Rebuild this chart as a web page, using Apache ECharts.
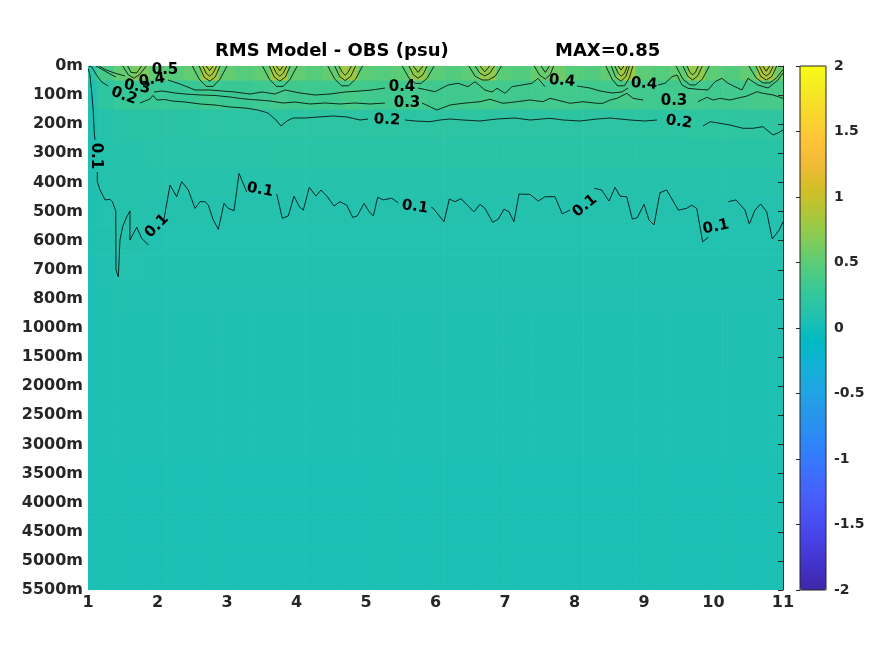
<!DOCTYPE html>
<html><head><meta charset="utf-8">
<script src="https://cdn.jsdelivr.net/npm/echarts@6/dist/echarts.min.js"></script>
<style>html,body{margin:0;padding:0;background:#fff}#c{width:875px;height:656px}</style>
</head><body><div id="c"></div>
<script>
// ---- data ----
const xNodes = [1,1.25,1.5,1.75,2,2.25,2.5,2.75,3,3.25,3.5,3.75,4,4.25,4.5,4.75,5,5.25,5.5,5.75,6,6.25,6.5,6.75,7,7.25,7.5,7.75,8,8.25,8.5,8.75,9,9.25,9.5,9.75,10,10.25,10.5,10.75,11];
const depthLabels = ['0m','100m','200m','300m','400m','500m','600m','700m','800m','1000m','1500m','2000m','2500m','3000m','3500m','4000m','4500m','5000m','5500m'];
const xTicks = [1,2,3,4,5,6,7,8,9,10,11];

const rms_0m    = [0.15,0.38,0.52,0.64,0.50,0.47,0.52,0.83,0.52,0.47,0.52,0.82,0.52,0.47,0.53,0.78,0.50,0.46,0.50,0.72,0.50,0.45,0.50,0.74,0.48,0.45,0.54,0.58,0.47,0.45,0.52,0.80,0.50,0.46,0.52,0.74,0.50,0.45,0.52,0.85,0.56];
const rms_100m  = [0.08,0.20,0.28,0.30,0.29,0.28,0.30,0.34,0.31,0.30,0.32,0.36,0.34,0.33,0.34,0.37,0.35,0.34,0.34,0.36,0.34,0.34,0.35,0.37,0.35,0.34,0.35,0.36,0.35,0.34,0.35,0.38,0.35,0.34,0.35,0.36,0.34,0.35,0.36,0.38,0.37];
const rms_200m  = [0.07,0.12,0.15,0.16,0.16,0.16,0.16,0.17,0.17,0.17,0.18,0.19,0.19,0.19,0.19,0.19,0.19,0.19,0.19,0.19,0.19,0.19,0.19,0.19,0.19,0.19,0.19,0.19,0.19,0.19,0.19,0.19,0.19,0.19,0.19,0.20,0.20,0.20,0.21,0.21,0.21];
const rms_300m  = [0.07,0.11,0.13,0.13,0.14,0.14,0.14,0.14,0.14,0.14,0.14,0.15,0.15,0.15,0.15,0.15,0.15,0.15,0.15,0.15,0.15,0.15,0.15,0.15,0.15,0.15,0.15,0.15,0.15,0.15,0.15,0.15,0.15,0.15,0.15,0.15,0.15,0.15,0.15,0.15,0.15];
const rms_400m  = [0.07,0.10,0.11,0.11,0.12,0.12,0.12,0.12,0.12,0.12,0.12,0.12,0.12,0.12,0.12,0.12,0.12,0.12,0.12,0.12,0.12,0.12,0.12,0.12,0.12,0.12,0.12,0.12,0.12,0.12,0.12,0.12,0.12,0.12,0.12,0.12,0.12,0.12,0.12,0.12,0.12];
const rms_500m  = [0.06,0.09,0.105,0.10,0.099,0.099,0.099,0.099,0.099,0.099,0.099,0.099,0.099,0.099,0.099,0.099,0.099,0.099,0.099,0.099,0.099,0.099,0.099,0.099,0.099,0.099,0.099,0.099,0.099,0.099,0.099,0.099,0.099,0.099,0.099,0.099,0.099,0.099,0.099,0.099,0.099];
const rms_600m  = [0.055,0.085,0.10,0.095,0.09,0.09,0.09,0.09,0.09,0.09,0.09,0.09,0.09,0.09,0.09,0.09,0.09,0.09,0.09,0.09,0.09,0.09,0.09,0.09,0.09,0.09,0.09,0.09,0.09,0.09,0.09,0.09,0.09,0.09,0.09,0.09,0.09,0.09,0.09,0.09,0.09];
const rms_700m  = [0.05,0.08,0.095,0.09,0.085,0.085,0.085,0.085,0.085,0.085,0.085,0.085,0.085,0.085,0.085,0.085,0.085,0.085,0.085,0.085,0.085,0.085,0.085,0.085,0.085,0.085,0.085,0.085,0.085,0.085,0.085,0.085,0.085,0.085,0.085,0.085,0.085,0.085,0.085,0.085,0.085];
const rms_800m  = [0.05,0.075,0.085,0.08,0.08,0.08,0.08,0.08,0.08,0.08,0.08,0.08,0.08,0.08,0.08,0.08,0.08,0.08,0.08,0.08,0.08,0.08,0.08,0.08,0.08,0.08,0.08,0.08,0.08,0.08,0.08,0.08,0.08,0.08,0.08,0.08,0.08,0.08,0.08,0.08,0.08];
const rms_1000m = [0.045,0.065,0.07,0.07,0.07,0.07,0.07,0.07,0.07,0.07,0.07,0.07,0.07,0.07,0.07,0.07,0.07,0.07,0.07,0.07,0.07,0.07,0.07,0.07,0.07,0.07,0.07,0.07,0.07,0.07,0.07,0.07,0.07,0.07,0.07,0.07,0.07,0.07,0.07,0.07,0.07];
const rms_1500m = [0.045,0.06,0.065,0.065,0.065,0.065,0.065,0.065,0.065,0.065,0.065,0.065,0.065,0.065,0.065,0.065,0.065,0.065,0.065,0.065,0.065,0.065,0.065,0.065,0.065,0.065,0.065,0.065,0.065,0.065,0.065,0.065,0.065,0.065,0.065,0.065,0.065,0.065,0.065,0.065,0.065];
const rms_2000m = [0.05,0.06,0.06,0.06,0.06,0.06,0.06,0.06,0.06,0.06,0.06,0.06,0.06,0.06,0.06,0.06,0.06,0.06,0.06,0.06,0.06,0.06,0.06,0.06,0.06,0.06,0.06,0.06,0.06,0.06,0.06,0.06,0.06,0.06,0.06,0.06,0.06,0.06,0.06,0.06,0.06];
const rms_2500m = [0.05,0.057,0.057,0.057,0.057,0.057,0.057,0.057,0.057,0.057,0.057,0.057,0.057,0.057,0.057,0.057,0.057,0.057,0.057,0.057,0.057,0.057,0.057,0.057,0.057,0.057,0.057,0.057,0.057,0.057,0.057,0.057,0.057,0.057,0.057,0.057,0.057,0.057,0.057,0.057,0.057];
const rms_3000m = [0.05,0.055,0.055,0.055,0.055,0.055,0.055,0.055,0.055,0.055,0.055,0.055,0.055,0.055,0.055,0.055,0.055,0.055,0.055,0.055,0.055,0.055,0.055,0.055,0.055,0.055,0.055,0.055,0.055,0.055,0.055,0.055,0.055,0.055,0.055,0.055,0.055,0.055,0.055,0.055,0.055];
const rms_3500m = [0.052,0.052,0.052,0.052,0.052,0.052,0.052,0.052,0.052,0.052,0.052,0.052,0.052,0.052,0.052,0.052,0.052,0.052,0.052,0.052,0.052,0.052,0.052,0.052,0.052,0.052,0.052,0.052,0.052,0.052,0.052,0.052,0.052,0.052,0.052,0.052,0.052,0.052,0.052,0.052,0.052];
const rms_4000m = [0.05,0.05,0.05,0.05,0.05,0.05,0.05,0.05,0.05,0.05,0.05,0.05,0.05,0.05,0.05,0.05,0.05,0.05,0.05,0.05,0.05,0.05,0.05,0.05,0.05,0.05,0.05,0.05,0.05,0.05,0.05,0.05,0.05,0.05,0.05,0.05,0.05,0.05,0.05,0.05,0.05];
const rms_4500m = [0.05,0.05,0.05,0.05,0.05,0.05,0.05,0.05,0.05,0.05,0.05,0.05,0.05,0.05,0.05,0.05,0.05,0.05,0.05,0.05,0.05,0.05,0.05,0.05,0.05,0.05,0.05,0.05,0.05,0.05,0.05,0.05,0.05,0.05,0.05,0.05,0.05,0.05,0.05,0.05,0.05];
const rms_5000m = [0.048,0.048,0.048,0.048,0.048,0.048,0.048,0.048,0.048,0.048,0.048,0.048,0.048,0.048,0.048,0.048,0.048,0.048,0.048,0.048,0.048,0.048,0.048,0.048,0.048,0.048,0.048,0.048,0.048,0.048,0.048,0.048,0.048,0.048,0.048,0.048,0.048,0.048,0.048,0.048,0.048];
const rms_5500m = [0.048,0.048,0.048,0.048,0.048,0.048,0.048,0.048,0.048,0.048,0.048,0.048,0.048,0.048,0.048,0.048,0.048,0.048,0.048,0.048,0.048,0.048,0.048,0.048,0.048,0.048,0.048,0.048,0.048,0.048,0.048,0.048,0.048,0.048,0.048,0.048,0.048,0.048,0.048,0.048,0.048];

// contour lines: [x, depth level index] per segment
const contour01 = [
  [[1.004,0.09],[1.029,0.32],[1.053,0.89],[1.076,1.58],[1.091,2.33],[1.101,2.54]],
  [[1.134,3.64],[1.134,3.97],[1.173,4.26],[1.245,4.60],[1.317,4.58],[1.350,4.66],[1.399,4.97],[1.403,7.01],[1.436,7.24],[1.460,5.98],[1.499,5.52],[1.557,5.18],[1.604,4.98],[1.604,5.98],[1.701,5.54],[1.773,5.92],[1.868,6.15]],
  [[2.083,5.40],[2.180,4.09],[2.276,4.49],[2.348,3.97],[2.443,4.26],[2.540,4.89],[2.612,4.66],[2.683,4.66],[2.731,4.78],[2.803,5.29],[2.875,5.61],[2.957,4.72],[3.019,4.89],[3.101,4.97],[3.173,3.69],[3.283,4.32]],
  [[3.715,4.40],[3.796,5.23],[3.882,5.15],[3.964,4.47],[4.040,4.83],[4.098,4.95],[4.184,4.17],[4.281,4.47],[4.353,4.26],[4.443,4.49],[4.540,4.81],[4.626,4.66],[4.722,4.78],[4.809,5.20],[4.875,5.15],[4.971,4.72],[5.047,5.01],[5.105,5.15],[5.168,4.51],[5.249,4.60],[5.370,4.54],[5.465,4.70]],
  [[5.940,4.85],[5.968,4.89],[6.122,5.35],[6.199,4.57],[6.281,4.66],[6.367,4.56],[6.554,5.01],[6.640,4.75],[6.712,4.89],[6.823,5.37],[6.904,5.26],[6.986,4.92],[7.058,5.01],[7.129,5.35],[7.201,4.40],[7.360,4.41],[7.479,4.64],[7.576,4.49],[7.719,4.49],[7.824,5.08],[7.935,4.95]],
  [[8.285,4.20],[8.391,4.26],[8.496,4.64],[8.583,4.17],[8.655,4.47],[8.751,4.49],[8.832,5.26],[8.904,5.21],[9.000,4.75],[9.072,5.29],[9.144,5.46],[9.230,4.35],[9.327,4.26],[9.494,4.95],[9.614,4.89],[9.686,4.78],[9.758,4.89],[9.844,6.04],[9.925,5.88]],
  [[10.213,4.66],[10.324,4.60],[10.453,4.95],[10.515,5.43],[10.597,4.95],[10.679,4.74],[10.765,5.01],[10.846,5.94],[10.947,5.63],[11.0,5.35]]
];
const contour02 = [
  [[1.014,0],[1.053,0.03],[1.125,0.32],[1.197,0.55],[1.292,0.69]],
  [[1.748,1.271],[1.892,1.134],[1.935,1.013],[1.993,1.168],[2.108,1.151],[2.209,1.202],[2.396,1.237],[2.612,1.305],[2.827,1.340],[3.043,1.408],[3.259,1.443],[3.446,1.512],[3.590,1.615],[3.705,1.855],[3.777,2.061],[3.863,1.889],[3.950,1.786],[4.122,1.786],[4.309,1.752],[4.525,1.718],[4.727,1.752],[4.914,1.855],[5.029,1.821]],
  [[5.561,1.855],[5.705,1.889],[5.921,1.913],[6.065,1.855],[6.209,1.821],[6.396,1.855],[6.640,1.889],[6.885,1.821],[7.144,1.786],[7.360,1.855],[7.647,1.797],[7.835,1.855],[8.079,1.889],[8.324,1.821],[8.511,1.786],[8.799,1.855],[9.014,1.889],[9.187,1.855]],
  [[9.849,2.061],[9.950,1.913],[10.094,1.968],[10.237,2.027],[10.424,2.140],[10.568,2.140],[10.712,2.085],[10.856,2.370],[10.928,2.302],[11.0,2.199]]
];
const contour03 = [
  [[1.115,0],[1.216,0.137],[1.317,0.275],[1.403,0.378]],
  [[1.950,0.893],[2.065,0.859],[2.252,0.928],[2.396,0.962],[2.612,0.996],[2.827,1.013],[3.043,1.065],[3.259,1.134],[3.446,1.168],[3.619,1.202],[3.806,1.271],[3.978,1.237],[4.194,1.305],[4.410,1.271],[4.626,1.305],[4.842,1.271],[5.058,1.305],[5.273,1.271]],
  [[5.806,1.271],[5.921,1.398],[6.022,1.512],[6.209,1.340],[6.396,1.281],[6.640,1.226],[6.784,1.144],[6.971,1.281],[7.173,1.226],[7.360,1.168],[7.547,1.226],[7.647,1.110],[7.748,1.168],[7.935,1.281],[8.122,1.226],[8.324,1.281],[8.410,1.281],[8.511,1.168],[8.612,1.110],[8.755,0.938],[8.842,1.110],[8.986,1.168]],
  [[9.777,1.226],[9.906,1.075],[9.993,1.168],[10.094,1.110],[10.237,1.168],[10.338,1.110],[10.482,1.031],[10.626,0.883],[10.712,0.938],[10.856,0.996],[11.0,1.110]]
];
const contour04 = [
  [[1.158,0],[1.259,0.137],[1.403,0.258],[1.532,0.344]],
  [[2.151,0.481],[2.324,0.618],[2.540,0.824],[2.755,0.824],[2.928,0.859],[3.115,0.893],[3.331,0.962],[3.504,0.893],[3.691,0.962],[3.835,0.824],[4.050,0.928],[4.266,0.996],[4.482,0.962],[4.698,0.893],[4.914,0.859],[5.086,0.824],[5.273,0.756]],
  [[5.748,0.756],[5.993,0.883],[6.180,0.653],[6.324,0.594],[6.468,0.711],[6.568,0.539],[6.712,0.824],[6.813,0.893],[6.885,0.766],[7.000,0.938],[7.101,0.711],[7.245,0.653],[7.388,0.594],[7.475,0.423],[7.576,0.711]],
  [[8.036,0.687],[8.223,0.756],[8.367,0.859],[8.540,0.928],[8.683,0.893],[8.770,0.756]],
  [[9.201,0.653],[9.302,0.594],[9.403,0.368],[9.475,0.309],[9.547,0.653],[9.633,0.766],[9.777,0.800],[9.921,0.824],[10.022,0.539],[10.122,0.423],[10.209,0.594],[10.309,0.711],[10.410,0.824],[10.496,0.423],[10.640,0.653],[10.784,0.756],[10.928,0.481],[11.0,0.240]]
];
const contour05 = [
  [[1.50,0],[1.58,0.30],[1.66,0.42],[1.74,0.30],[1.84,0]],
  [[2.50,0],[2.60,0.45],[2.70,0.70],[2.80,0.70],[2.90,0.45],[3.00,0]],
  [[3.51,0],[3.61,0.45],[3.71,0.70],[3.81,0.70],[3.91,0.45],[4.01,0]],
  [[4.45,0],[4.55,0.45],[4.65,0.68],[4.75,0.68],[4.85,0.45],[4.95,0]],
  [[5.52,0],[5.62,0.42],[5.71,0.60],[5.79,0.60],[5.88,0.42],[5.98,0]],
  [[6.48,0],[6.57,0.35],[6.67,0.48],[6.76,0.48],[6.86,0.35],[6.95,0]],
  [[7.42,0],[7.50,0.32],[7.58,0.45],[7.65,0.30],[7.70,0]],
  [[8.45,0],[8.54,0.45],[8.62,0.68],[8.72,0.68],[8.79,0.40],[8.84,0]],
  [[9.46,0],[9.56,0.45],[9.66,0.65],[9.74,0.65],[9.84,0.45],[9.94,0]],
  [[10.51,0],[10.61,0.40],[10.71,0.58],[10.81,0.58],[10.91,0.40],[11.0,0.12]]
];
const contour06 = [
  [[1.57,0],[1.62,0.22],[1.70,0.24],[1.77,0]],
  [[2.60,0],[2.67,0.38],[2.75,0.52],[2.83,0.38],[2.90,0]],
  [[3.61,0],[3.68,0.38],[3.76,0.52],[3.84,0.38],[3.91,0]],
  [[4.55,0],[4.62,0.36],[4.70,0.50],[4.78,0.36],[4.85,0]],
  [[5.62,0],[5.68,0.30],[5.75,0.42],[5.82,0.30],[5.88,0]],
  [[6.57,0],[6.64,0.25],[6.71,0.34],[6.78,0.25],[6.85,0]],
  [[7.52,0],[7.58,0.22],[7.64,0]],
  [[8.53,0],[8.59,0.38],[8.67,0.52],[8.74,0.36],[8.79,0]],
  [[9.56,0],[9.63,0.35],[9.70,0.48],[9.77,0.35],[9.84,0]],
  [[10.61,0],[10.68,0.36],[10.76,0.48],[10.84,0.36],[10.91,0]]
];
const contour07 = [
  [[2.65,0],[2.70,0.25],[2.75,0.35],[2.80,0.25],[2.85,0]],
  [[3.66,0],[3.71,0.25],[3.76,0.35],[3.81,0.25],[3.86,0]],
  [[4.61,0],[4.66,0.22],[4.70,0.32],[4.74,0.22],[4.79,0]],
  [[5.68,0],[5.75,0.22],[5.82,0]],
  [[6.64,0],[6.71,0.20],[6.78,0]],
  [[8.58,0],[8.63,0.25],[8.67,0.35],[8.72,0.25],[8.76,0]],
  [[9.62,0],[9.66,0.22],[9.70,0.30],[9.74,0.22],[9.78,0]],
  [[10.66,0],[10.71,0.25],[10.76,0.34],[10.81,0.25],[10.86,0]]
];
const contour08 = [
  [[2.70,0],[2.75,0.16],[2.80,0]],
  [[3.71,0],[3.76,0.16],[3.81,0]],
  [[8.63,0],[8.67,0.14],[8.71,0]],
  [[10.71,0],[10.76,0.18],[10.81,0]]
];
// contour labels: [x, level, text, angle]
const contourLabels = [
  [1.115,3.09,'0.1',-90],[1.993,5.50,'0.1',45],[3.475,4.26,'0.1',-10],[5.705,4.84,'0.1',-8],
  [8.151,4.81,'0.1',40],[10.036,5.53,'0.1',12],
  [1.518,1.03,'0.2',-20],[5.302,1.855,'0.2',-3],[9.504,1.924,'0.2',-8],
  [1.705,0.72,'0.3',-10],[5.590,1.271,'0.3',0],[9.432,1.202,'0.3',0],
  [1.921,0.48,'0.4',8],[5.518,0.721,'0.4',0],[7.820,0.515,'0.4',-5],[9.0,0.618,'0.4',-5],
  [2.108,0.137,'0.5',0]
];

// ---- styles ----
const FONT = 'DejaVu Sans';
const TXT = '#262626';
const parula = ['#3E26A8','#4332CB','#4741E5','#4852F4','#4563FD','#3875FE','#2E87F7','#2796EB','#20A5E3','#12B1D6','#02BAC3','#24C1AE','#37C897','#57CC7A','#81CC59','#ABC739','#D1BF27','#F0BA36','#FEC338','#FAD62D','#F5E924','#F9FB15'];

const depthRows = [rms_0m,rms_100m,rms_200m,rms_300m,rms_400m,rms_500m,rms_600m,rms_700m,rms_800m,rms_1000m,rms_1500m,rms_2000m,rms_2500m,rms_3000m,rms_3500m,rms_4000m,rms_4500m,rms_5000m,rms_5500m];
const heatData = [];
depthRows.forEach((row, j) => row.forEach((v, i) => heatData.push([xNodes[i], j, v])));
const halfW = (xNodes[1] - xNodes[0]) / 2;
const segments = [].concat(contour01, contour02, contour03, contour04, contour05, contour06, contour07, contour08);

const chart = echarts.init(document.getElementById('c'));
chart.setOption({
  animation: false,
  backgroundColor: '#fff',
  title: [
    {text: 'RMS Model - OBS (psu)', left: 215, top: 42, padding: 0, textStyle: {fontFamily: FONT, fontSize: 18, fontWeight: 'bold', color: '#000'}},
    {text: 'MAX=0.85', left: 555, top: 42, padding: 0, textStyle: {fontFamily: FONT, fontSize: 18, fontWeight: 'bold', color: '#000'}}
  ],
  grid: [
    {left: 88, top: 66, width: 695, height: 524, outerBoundsMode: 'none', containLabel: false},
    {left: 800, top: 66, width: 26, height: 524, show: true, borderColor: TXT, borderWidth: 1, backgroundColor: 'rgba(0,0,0,0)', z: 10, outerBoundsMode: 'none', containLabel: false}
  ],
  xAxis: [
    {gridIndex: 0, type: 'value', min: xTicks[0], max: xTicks[xTicks.length-1], interval: 1,
     axisLine: {show: false}, axisTick: {show: false}, splitLine: {show: false},
     axisLabel: {fontFamily: FONT, fontSize: 16, fontWeight: 'bold', color: TXT, margin: 5, showMinLabel: true, showMaxLabel: true}},
    {gridIndex: 1, type: 'value', show: false, min: 0, max: 1}
  ],
  yAxis: [
    {gridIndex: 0, type: 'value', min: 0, max: depthLabels.length - 1, interval: 1, inverse: true,
     axisLine: {show: false}, axisTick: {show: false}, splitLine: {show: false},
     axisLabel: {fontFamily: FONT, fontSize: 16, fontWeight: 'bold', color: TXT, margin: 5, showMinLabel: true, showMaxLabel: true,
                 formatter: v => depthLabels[Math.round(v)] || ''}},
    {gridIndex: 0, type: 'value', min: 0, max: depthLabels.length - 1, interval: 1, inverse: true, position: 'right', z: 5,
     axisLine: {show: true, lineStyle: {color: TXT, width: 1}}, axisTick: {show: true, inside: true, length: 5, lineStyle: {color: TXT}},
     splitLine: {show: false}, axisLabel: {show: false}},
    {gridIndex: 1, type: 'value', min: -2, max: 2, interval: 0.5, position: 'right', z: 10,
     axisLine: {show: false}, axisTick: {show: true, inside: true, length: 4, lineStyle: {color: TXT}},
     splitLine: {show: false},
     axisLabel: {fontFamily: FONT, fontSize: 14, fontWeight: 'bold', color: TXT, margin: 8, showMinLabel: true, showMaxLabel: true}}
  ],
  visualMap: {
    type: 'continuous', min: -2, max: 2, dimension: 2, seriesIndex: 0,
    calculable: false, hoverLink: false, realtime: false,
    left: 800, top: 66, itemWidth: 26, itemHeight: 524, padding: 0, showLabel: false,
    inRange: {color: parula}
  },
  series: [
    {
      type: 'custom', xAxisIndex: 0, yAxisIndex: 0, silent: true, z: 1,
      data: heatData,
      renderItem: function (params, api) {
        const cs = params.coordSys;
        const x = api.value(0), y = api.value(1);
        const a = api.coord([x - halfW, y - 0.5]);
        const b = api.coord([x + halfW, y + 0.5]);
        const x0 = Math.max(Math.min(a[0], b[0]), cs.x);
        const x1 = Math.min(Math.max(a[0], b[0]), cs.x + cs.width);
        const y0 = Math.max(Math.min(a[1], b[1]), cs.y);
        const y1 = Math.min(Math.max(a[1], b[1]), cs.y + cs.height);
        const w = x1 - x0 + (x1 < cs.x + cs.width - 0.5 ? 0.6 : 0);
        const h = y1 - y0 + (y1 < cs.y + cs.height - 0.5 ? 0.6 : 0);
        return {type: 'rect', shape: {x: x0, y: y0, width: w, height: h}, style: {fill: api.visual('color')}};
      }
    },
    {
      type: 'lines', coordinateSystem: 'cartesian2d', xAxisIndex: 0, yAxisIndex: 0, polyline: true, silent: true, z: 3,
      lineStyle: {color: '#000', width: 0.8, opacity: 1},
      data: segments.map(s => ({coords: s}))
    },
    {
      type: 'scatter', xAxisIndex: 0, yAxisIndex: 0, silent: true, z: 4, symbolSize: 1,
      itemStyle: {color: 'rgba(0,0,0,0)'},
      data: contourLabels.map(l => ({value: [l[0], l[1]], label: {rotate: l[3], formatter: l[2]}})),
      label: {show: true, position: 'inside', fontFamily: FONT, fontSize: 15, fontWeight: 'bold', color: '#000', opacity: 1}
    }
  ]
});
</script>
</body></html>
